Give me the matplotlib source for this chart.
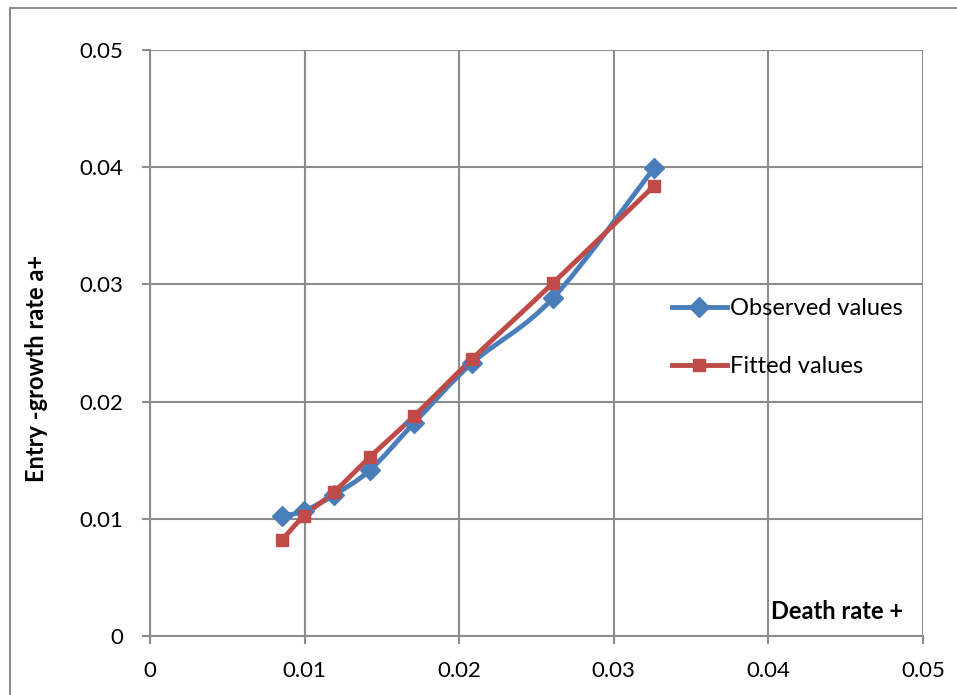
import numpy as np
import matplotlib.pyplot as plt
from matplotlib.path import Path
from matplotlib.patches import PathPatch, Rectangle
from matplotlib.lines import Line2D

plt.rcParams['font.family'] = ['Lato', 'DejaVu Sans']

death_rate = [0.00854, 0.00996, 0.0119, 0.01423, 0.01708, 0.02083, 0.02607, 0.0326]
observed = [0.01024, 0.01067, 0.01203, 0.01416, 0.01817, 0.02329, 0.02884, 0.03993]
fitted = [0.00819, 0.01024, 0.01229, 0.01527, 0.01877, 0.02363, 0.03012, 0.0384]

blue = "#4A7EBB"
red = "#BE4B48"
grid = "#8c8c8c"


def smooth_path(x, y):
    # Excel style smoothed line: cubic bezier segments through the points
    p = np.column_stack([x, y])
    n = len(p)
    verts = [p[0]]
    codes = [Path.MOVETO]
    for i in range(n - 1):
        p0 = p[i - 1] if i > 0 else p[i]
        p3 = p[i + 2] if i + 2 < n else p[i + 1]
        c1 = p[i] + (p[i + 1] - p0) / 6
        c2 = p[i + 1] - (p3 - p[i]) / 6
        verts += [c1, c2, p[i + 1]]
        codes += [Path.CURVE4] * 3
    return Path(verts, codes)


fig = plt.figure(figsize=(9.57, 6.95), dpi=100)
fig.patches.append(Rectangle((10 / 957, -0.1), 1.2, 1.1 - 8 / 695,
                             transform=fig.transFigure, fill=False,
                             edgecolor="#8c8c8c", linewidth=1.5))
ax = fig.add_axes([150 / 957, 59 / 695, 773 / 957, 586 / 695])

for xs, ys, c, m, ms in [(death_rate, observed, blue, "D", 10.5),
                         (death_rate, fitted, red, "s", 8.5)]:
    ax.add_patch(PathPatch(smooth_path(xs, ys), fill=False, edgecolor=c,
                           linewidth=3.5, capstyle="round", joinstyle="round", zorder=3))
    ax.plot(xs, ys, linestyle="none", marker=m, markersize=ms, color=c, zorder=4)

ax.set_xlim(0, 0.05)
ax.set_ylim(0, 0.05)
ticks = [0, 0.01, 0.02, 0.03, 0.04, 0.05]
labels = ["0", "0.01", "0.02", "0.03", "0.04", "0.05"]
ax.set_xticks(ticks)
ax.set_xticklabels(labels)
ax.set_yticks(ticks)
ax.set_yticklabels(labels)
ax.tick_params(axis="both", labelsize=16, length=6, width=1.5, color=grid)
ax.tick_params(axis="y", pad=13)
ax.tick_params(axis="x", pad=12)
ax.grid(True, color=grid, linewidth=1.5)
ax.set_axisbelow(True)
for s in ["top", "right"]:
    ax.spines[s].set_visible(False)
for s in ["left", "bottom"]:
    ax.spines[s].set_color(grid)
    ax.spines[s].set_linewidth(1.5)

ax.text(0.0487, 0.0021, "Death rate +", fontsize=17, fontweight="bold",
        ha="right", va="center")
fig.text(37 / 957, 1 - 368 / 695, "Entry -growth rate a+", fontsize=17,
         fontweight="bold", rotation=90, ha="center", va="center")

handles = [Line2D([], [], color=blue, linewidth=3.5, marker="D", markersize=10.5),
           Line2D([], [], color=red, linewidth=3.5, marker="s", markersize=8.5)]
ax.legend(handles, ["Observed values", "Fitted values"], loc="upper left",
          bbox_to_anchor=(0.692, 0.585), bbox_transform=fig.transFigure,
          frameon=False, fontsize=17, handlelength=2.33, handletextpad=0.13,
          labelspacing=1.58, borderpad=0.4, borderaxespad=0)

fig.savefig("out.png", dpi=100)
